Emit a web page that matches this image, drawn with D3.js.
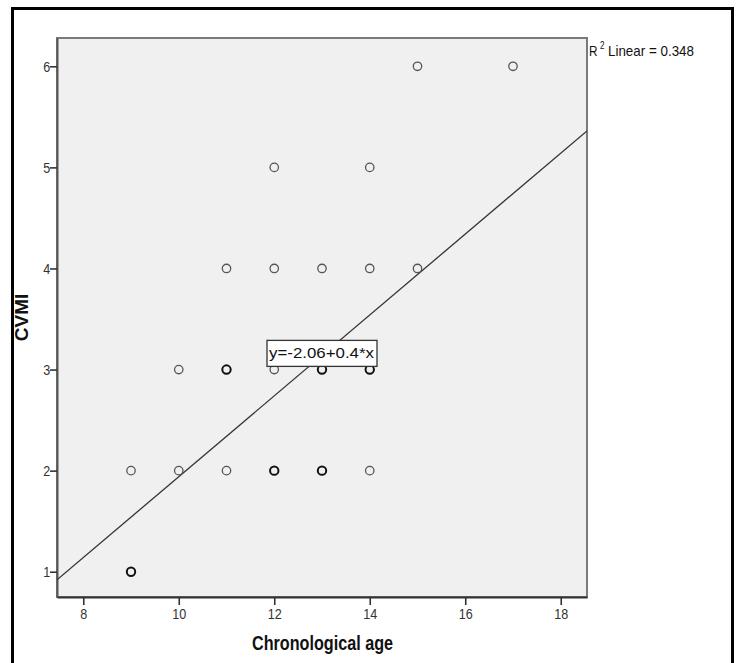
<!DOCTYPE html>
<html>
<head>
<meta charset="utf-8">
<script src="https://cdn.jsdelivr.net/npm/d3@7"></script>
<style>
  html, body { margin: 0; padding: 0; background: #fff; }
  svg { display: block; }
</style>
</head>
<body>
<svg id="chart" width="738" height="663"></svg>
<script>
// ---- data ----
const ages = [9, 9, 9, 10, 10, 11, 11, 11, 11, 12, 12, 12, 12, 12, 13, 13, 13, 13, 13, 14, 14, 14, 14, 14, 15, 15, 17];
const cvmi = [1, 1, 2, 2, 3, 2, 3, 3, 4, 2, 2, 3, 4, 5, 2, 2, 3, 3, 4, 2, 3, 3, 4, 5, 4, 6, 6];
const xTicks = [8, 10, 12, 14, 16, 18];
const yTicks = [1, 2, 3, 4, 5, 6];
const fitIntercept = -2.06;
const fitSlope = 0.4;
const equationLabel = "y=-2.06+0.4*x";
const r2Label = "0.348";
const xTitle = "Chronological age";
const yTitle = "CVMI";

const svg = d3.select("#chart");
const plot = { left: 57, top: 38, right: 587, bottom: 597 };

const x = d3.scaleLinear().domain([7.45, 18.55]).range([plot.left, plot.right]);
const y = d3.scaleLinear().domain([0.75, 6.28]).range([plot.bottom, plot.top]);

const font = "'Liberation Sans', Arial, sans-serif";

// outer frame
svg.append("rect")
  .attr("x", 12.5).attr("y", 8.5).attr("width", 720).attr("height", 670)
  .attr("fill", "none").attr("stroke", "#000").attr("stroke-width", 3);

// plot background
svg.append("rect")
  .attr("x", plot.left).attr("y", plot.top)
  .attr("width", plot.right - plot.left).attr("height", plot.bottom - plot.top)
  .attr("fill", "#f0f0f0").attr("stroke", "#7a7a7a").attr("stroke-width", 2);

// axes
const xAxis = svg.append("g")
  .attr("transform", `translate(0,${plot.bottom})`)
  .call(d3.axisBottom(x).tickValues(xTicks).tickSize(8).tickSizeOuter(0).tickPadding(3).tickFormat(d3.format("d")));
const yAxis = svg.append("g")
  .attr("transform", `translate(${plot.left},0)`)
  .call(d3.axisLeft(y).tickValues(yTicks).tickSize(7).tickSizeOuter(0).tickPadding(1).tickFormat(d3.format("d")));

[xAxis, yAxis].forEach(g => {
  g.select(".domain").attr("stroke", "#555").attr("stroke-width", 2);
  g.selectAll(".tick line").attr("stroke", "#333").attr("stroke-width", 1.6);
  g.selectAll(".tick text").attr("fill", "#333").attr("font-size", 15).attr("font-family", font)
    .attr("transform", "scale(0.84,1)");
});
xAxis.select(".domain").attr("stroke", "#333");

// clip
svg.append("clipPath").attr("id", "clip")
  .append("rect").attr("x", plot.left).attr("y", plot.top)
  .attr("width", plot.right - plot.left).attr("height", plot.bottom - plot.top);

// regression line
const [x0, x1] = x.domain();
svg.append("line")
  .attr("clip-path", "url(#clip)")
  .attr("x1", x(x0)).attr("y1", y(fitIntercept + fitSlope * x0))
  .attr("x2", x(x1)).attr("y2", y(fitIntercept + fitSlope * x1))
  .attr("stroke", "#333").attr("stroke-width", 1.3);

// points (grouped, overlapping ones drawn bolder)
const counts = d3.rollups(ages.map((a, i) => [a, cvmi[i]]), v => v.length, d => d[0] + "|" + d[1]);
svg.append("g").selectAll("circle")
  .data(counts)
  .join("circle")
  .attr("cx", d => x(+d[0].split("|")[0]))
  .attr("cy", d => y(+d[0].split("|")[1]))
  .attr("r", 4.2)
  .attr("fill", "none")
  .attr("stroke", d => d[1] > 1 ? "#111" : "#555")
  .attr("stroke-width", d => d[1] > 1 ? 2 : 1.3);

// equation label box
const eqCx = x(13.0), eqCy = y(3.16);
svg.append("rect")
  .attr("x", eqCx - 55).attr("y", eqCy - 13)
  .attr("width", 110).attr("height", 26)
  .attr("fill", "#fff").attr("stroke", "#333").attr("stroke-width", 1.3);
svg.append("text")
  .attr("x", eqCx - 53).attr("y", eqCy + 5)
  .attr("font-family", font)
  .attr("font-size", 15)
  .attr("textLength", 105).attr("lengthAdjust", "spacingAndGlyphs")
  .attr("fill", "#111")
  .text(equationLabel);

// R² label (separate pieces)
const r2g = svg.append("g").attr("font-family", font).attr("fill", "#111");
r2g.append("text").attr("x", plot.right + 2).attr("y", 56).attr("font-size", 15)
  .attr("textLength", 8.5).attr("lengthAdjust", "spacingAndGlyphs").text("R");
r2g.append("text").attr("x", plot.right + 13).attr("y", 49).attr("font-size", 10)
  .attr("textLength", 4.5).attr("lengthAdjust", "spacingAndGlyphs").text("2");
r2g.append("text").attr("x", plot.right + 21).attr("y", 56).attr("font-size", 15)
  .attr("textLength", 86).attr("lengthAdjust", "spacingAndGlyphs").text("Linear = " + r2Label);

// axis titles
svg.append("text")
  .attr("x", 252).attr("y", 650)
  .attr("font-family", font).attr("font-weight", "bold").attr("font-size", 20)
  .attr("textLength", 141).attr("lengthAdjust", "spacingAndGlyphs")
  .attr("fill", "#111")
  .text(xTitle);
svg.append("text")
  .attr("transform", `translate(28,${(plot.top + plot.bottom) / 2}) rotate(-90)`)
  .attr("text-anchor", "middle")
  .attr("font-family", font).attr("font-weight", "bold").attr("font-size", 19)
  .attr("fill", "#111")
  .text(yTitle);
</script>
</body>
</html>
